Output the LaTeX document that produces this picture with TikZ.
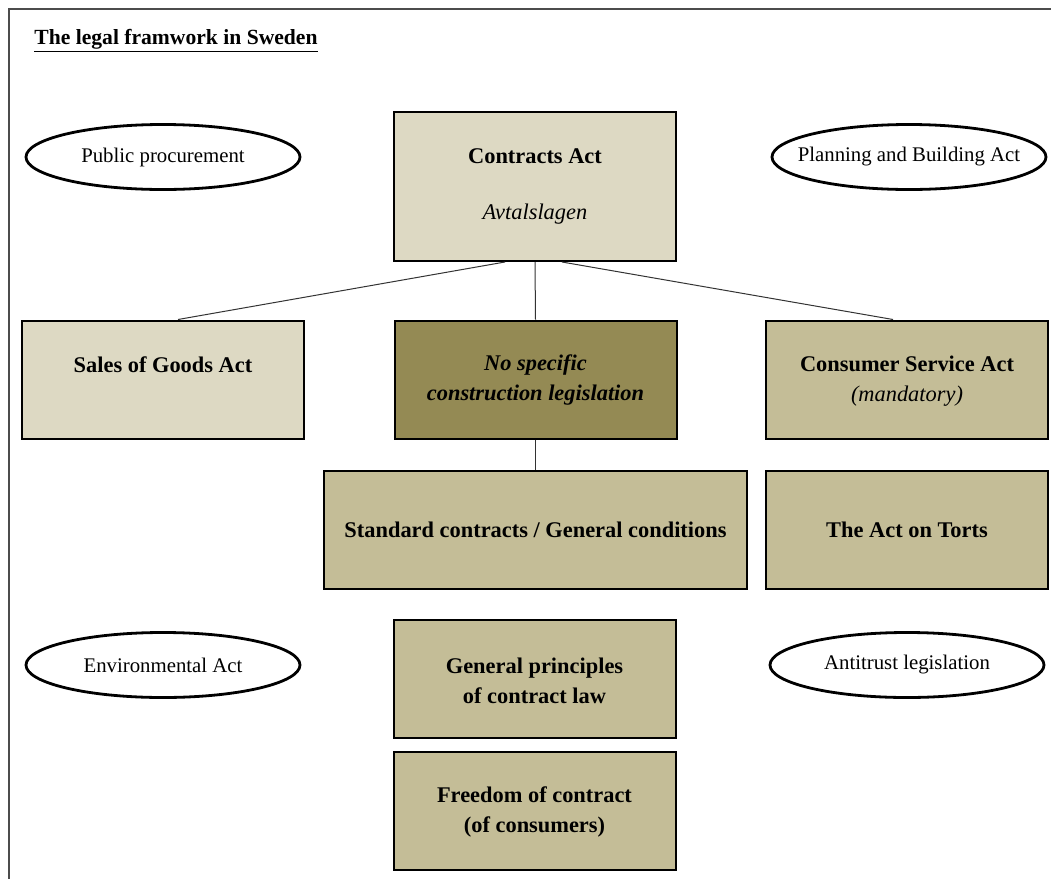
\documentclass[tikz,border=0pt]{standalone}
\usepackage{fontspec}
\setmainfont{Liberation Serif}
\usetikzlibrary{positioning, shapes.geometric, calc}
\definecolor{tanlight}{HTML}{DDD9C3}
\definecolor{tanmid}{HTML}{C4BD97}
\definecolor{tandark}{HTML}{948A54}

\begin{document}
\begin{tikzpicture}[
    x=0.5pt, y=-0.5pt,
    box/.style={draw, line width=1pt, minimum width=141pt, minimum height=59pt, inner sep=0pt},
    oval/.style={draw, ellipse, line width=1.4pt, minimum width=137pt, minimum height=32.5pt,
                 inner xsep=-16pt, inner ysep=0pt, font=\fontsize{10.4}{12}\selectfont},
    txt/.style={align=center, inner sep=0pt, font=\fontsize{11.2}{15}\selectfont\bfseries},
    link/.style={draw=black!80, line width=0.5pt}
]
\useasboundingbox (0,0) rectangle (1051,879);
\draw[black!70, line width=0.8pt] (1051,9) -- (9,9) -- (9,879);

\node[anchor=west, inner sep=0pt, font=\fontsize{10.8}{13}\selectfont\bfseries] (title) at (34,41)
    {\underline{The legal framwork in Sweden}};

% ovals
\node[oval] (procure)  at (163,157) {Public procurement};
\node[oval] (planning) at (909,157) {Planning and Building Act};
\node[oval] (environ)  at (163,665) {Environmental Act};
\node[oval] (antitrust) at (907,665) {Antitrust legislation};

% boxes
\node[box, fill=tanlight, minimum height=74.5pt] (contracts) at (535,186.5) {};
\node[box, fill=tanlight] (sales)    at (163,379.5) {};
\node[box, fill=tandark]  (nospec)   at (535.5,379.5) {};
\node[box, fill=tanmid]   (consumer) at (907,379.5) {};
\node[box, fill=tanmid, minimum width=211.5pt] (standard) at (535.5,530) {};
\node[box, fill=tanmid]   (torts)    at (907,529.5) {};
\node[box, fill=tanmid]   (general)  at (534.5,678.5) {};
\node[box, fill=tanmid]   (freedom)  at (534.5,811) {};

% texts
\node[txt] (contractsT) at (535,186) {Contracts Act\\[13pt]{\normalfont\itshape Avtalslagen}};
\node[txt] (salesT)    at (163,365) {Sales of Goods Act};
\node[txt, font=\fontsize{11.2}{15}\selectfont\bfseries\itshape] (nospecT) at (535.5,380)
    {No specific\\construction legislation};
\node[txt] (consumerT) at (907,381) {Consumer Service Act\\{\normalfont\itshape (mandatory)}};
\node[txt] (standardT) at (535.5,530) {Standard contracts / General conditions};
\node[txt] (tortsT)    at (907,530) {The Act on Torts};
\node[txt] (generalT)  at (534.5,681) {General principles\\of contract law};
\node[txt] (freedomT)  at (534.5,812) {Freedom of contract\\(of consumers)};

% connectors
\draw[link] ($(contracts.south)+(-30,0)$) -- ($(sales.north)+(15,0)$);
\draw[link] (contracts.south) -- (nospec.north);
\draw[link] ($(contracts.south)+(27,0)$) -- ($(consumer.north)+(-14,0)$);
\draw[link] (nospec.south) -- (standard.north);
\end{tikzpicture}
\end{document}
